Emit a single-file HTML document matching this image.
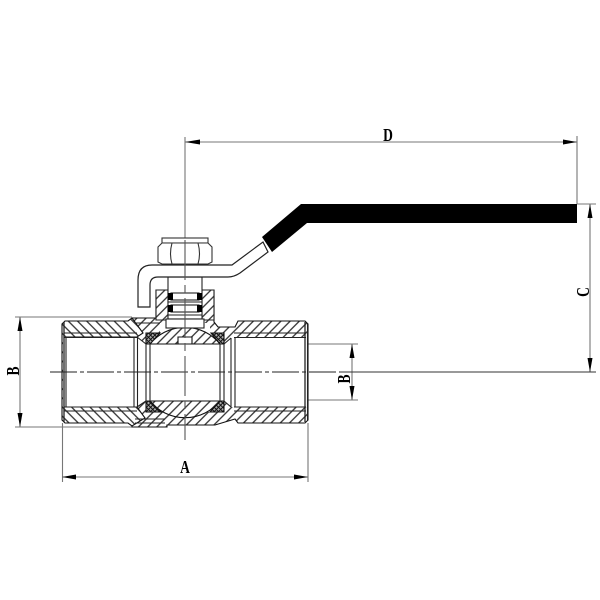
<!DOCTYPE html>
<html><head><meta charset="utf-8"><style>
html,body{margin:0;padding:0;background:#fff}
svg{display:block}
text{font-family:"Liberation Serif",serif;font-weight:bold;fill:#000}
</style></head><body>
<svg width="600" height="600" viewBox="0 0 600 600" xmlns="http://www.w3.org/2000/svg">
<defs>
<pattern id="h" width="6.500" height="6.500" patternUnits="userSpaceOnUse" patternTransform="rotate(45)"><rect width="6.500" height="6.500" fill="#fff"/><line x1="3.250" y1="0" x2="3.250" y2="6.500" stroke="#222" stroke-width="1.200"/></pattern>
<pattern id="g" width="6.500" height="6.500" patternUnits="userSpaceOnUse" patternTransform="rotate(-45)"><rect width="6.500" height="6.500" fill="#fff"/><line x1="3.250" y1="0" x2="3.250" y2="6.500" stroke="#222" stroke-width="1.200"/></pattern>
<pattern id="x" width="3" height="3" patternUnits="userSpaceOnUse" patternTransform="rotate(45)"><rect width="3" height="3" fill="#aaa"/><path d="M1.500 0V3M0 1.500H3" stroke="#111" stroke-width="1"/></pattern>
</defs>
<rect width="600" height="600" fill="#fff"/>

<!-- dimension / extension lines -->
<g stroke="#777" stroke-width="1.100" fill="none">
<line x1="185" y1="142" x2="577" y2="142"/>
<line x1="577" y1="136" x2="577" y2="204"/>
<line x1="185" y1="137" x2="185" y2="240"/>
<line x1="590" y1="204" x2="590" y2="372"/>
<line x1="577" y1="204" x2="596" y2="204"/>
<line x1="20" y1="317" x2="20" y2="427"/>
<line x1="15" y1="317" x2="132" y2="317"/>
<line x1="15" y1="427" x2="132" y2="427"/>
<line x1="62.500" y1="423" x2="62.500" y2="482"/>
<line x1="308" y1="423" x2="308" y2="482"/>
<line x1="62" y1="477" x2="308" y2="477"/>
<line x1="352" y1="344" x2="352" y2="400"/>
<line x1="306" y1="344" x2="358" y2="344"/>
<line x1="306" y1="400" x2="358" y2="400"/>
</g>

<g stroke="#111" stroke-width="1.100">
<!-- main body and right end -->
<path d="M132 318H156V290H214V322L218 327H235L238 321H305L308 324V420L305 423H238L235 419L215 425H167V427H132Z" fill="url(#h)"/>
<!-- left end -->
<path d="M65 321H128L132 318L143 333L137 337H66V407H137L145 418L132 426L128 423H65L62 420V324Z" fill="url(#g)"/>
<!-- bores -->
<rect x="63" y="338" width="71" height="69" fill="#fff" stroke="none"/>
<rect x="234" y="338" width="74" height="69" fill="#fff" stroke="none"/>
<path d="M137 337L146 344V401L137 407Z" fill="#fff" stroke="none"/>
<path d="M224 344L231 338V407L224 401Z" fill="#fff" stroke="none"/>
<path d="M134 338H137V407H134Z" fill="#fff" stroke="none"/>
<path d="M231 338H235V407H231Z" fill="#fff" stroke="none"/>
<!-- cavity above and below ball -->
<path d="M160 323H210V333H160Z" fill="#fff" stroke="none"/>
<path d="M146 333H224V412H146Z" fill="#fff" stroke="none"/>
<!-- ball -->
<path d="M150 344A45 45 0 0 1 220 344Z" fill="url(#h)"/>
<path d="M150 401A45 45 0 0 0 220 401Z" fill="url(#h)"/>
<path d="M178 344V337H192V344Z" fill="#fff"/>
<!-- seats -->
<path d="M146 333H160L150 344H146Z" fill="url(#x)"/>
<path d="M211 333H224V344H220Z" fill="url(#x)"/>
<path d="M146 401H150L161 412H146Z" fill="url(#x)"/>
<path d="M220 401H224V412H210Z" fill="url(#x)"/>
</g>
<g stroke="#222" stroke-width="1.100" fill="none">
<line x1="64" y1="333" x2="137" y2="333"/>
<line x1="64" y1="337.500" x2="137" y2="337.500"/>
<line x1="64" y1="407" x2="137" y2="407"/>
<line x1="64" y1="411" x2="137" y2="411"/>
<line x1="234" y1="333" x2="306" y2="333"/>
<line x1="234" y1="337.500" x2="306" y2="337.500"/>
<line x1="234" y1="407" x2="306" y2="407"/>
<line x1="234" y1="411" x2="306" y2="411"/>
<line x1="64" y1="322" x2="64" y2="422" stroke-width="1.300"/>
<line x1="66" y1="337" x2="66" y2="407"/>
<line x1="134" y1="337" x2="134" y2="407"/>
<line x1="137.500" y1="337" x2="137.500" y2="407"/>
<line x1="146" y1="344" x2="146" y2="401"/>
<line x1="150" y1="344" x2="150" y2="401"/>
<line x1="220" y1="344" x2="220" y2="401"/>
<line x1="224" y1="344" x2="224" y2="401"/>
<line x1="231" y1="338" x2="231" y2="407"/>
<line x1="235" y1="337" x2="235" y2="407"/>
<line x1="305" y1="322" x2="305" y2="422" stroke-width="1.300"/>
<line x1="307.500" y1="324" x2="307.500" y2="420"/>
<line x1="137" y1="337" x2="146" y2="344"/>
<line x1="137" y1="407" x2="146" y2="401"/>
<line x1="224" y1="344" x2="231" y2="338"/>
<line x1="224" y1="401" x2="231" y2="407"/>
<line x1="135" y1="323" x2="160" y2="323"/>
<line x1="135" y1="419" x2="165" y2="419"/>
<line x1="135" y1="423" x2="165" y2="423"/>
</g>

<!-- stem and packing -->
<g stroke="#222" stroke-width="1.100">
<path d="M156 290H168V320H156Z" fill="url(#h)"/>
<path d="M202 290H214V320H202Z" fill="url(#h)"/>
<rect x="168" y="277" width="34" height="42" fill="#fff"/>
<rect x="166" y="319" width="38" height="9" fill="#fff"/>
<rect x="171" y="293" width="28" height="7" fill="#fff"/>
<rect x="171" y="305" width="28" height="7" fill="#fff"/>
<line x1="168" y1="302" x2="202" y2="302"/>
<line x1="168" y1="315" x2="202" y2="315"/>
</g>
<g fill="#000">
<rect x="168" y="293" width="5" height="7"/><rect x="197" y="293" width="5" height="7"/>
<rect x="168" y="305" width="5" height="7"/><rect x="197" y="305" width="5" height="7"/>
</g>

<!-- handle -->
<path d="M138 307V280Q138 265 152 265H232L263 242L268 252L240 273Q234 277 228 277H158Q150 277 150 285V307Z" fill="#fff" stroke="#222" stroke-width="1.200"/>
<path d="M262 237L301 204H577V223H307L272 252Z" fill="#000"/>

<!-- nut -->
<g stroke="#333" stroke-width="1.100" fill="#fff">
<rect x="162" y="238" width="46" height="5"/>
<path d="M158 247L162 243H208L212 247V262L208 264H162L158 262Z"/>
<path d="M172 243Q169 254 172 264M198 243Q201 254 198 264" fill="none"/>
</g>

<!-- centre lines -->
<line x1="50" y1="372" x2="340" y2="372" stroke="#222" stroke-width="1" stroke-dasharray="27 3 4 3"/>
<line x1="340" y1="372" x2="596" y2="372" stroke="#333" stroke-width="1"/>
<line x1="185" y1="240" x2="185" y2="440" stroke="#555" stroke-width="1.100" stroke-dasharray="40 5 8 5"/>

<!-- arrowheads -->
<g fill="#000">
<path d="M185 142L200 139.500V144.500Z"/>
<path d="M577 142L563 139.500V144.500Z"/>
<path d="M590 204L587.500 218H592.500Z"/>
<path d="M590 372L587.500 358H592.500Z"/>
<path d="M20 317L17.500 331H22.500Z"/>
<path d="M20 427L17.500 413H22.500Z"/>
<path d="M62 477L76 474.500V479.500Z"/>
<path d="M308 477L294 474.500V479.500Z"/>
<path d="M352 344L349.500 358H354.500Z"/>
<path d="M352 400L349.500 386H354.500Z"/>
</g>

<!-- labels -->
<text transform="translate(388,141) scale(.75,1)" font-size="18" text-anchor="middle">D</text>
<text transform="translate(185,473) scale(.75,1)" font-size="18" text-anchor="middle">A</text>
<text transform="translate(589,292) rotate(-90) scale(.75,1)" font-size="18" text-anchor="middle">C</text>
<text transform="translate(19,371) rotate(-90) scale(.75,1)" font-size="18" text-anchor="middle">B</text>
<text transform="translate(350,379) rotate(-90) scale(.75,1)" font-size="18" text-anchor="middle">B</text>
</svg>
</body></html>
